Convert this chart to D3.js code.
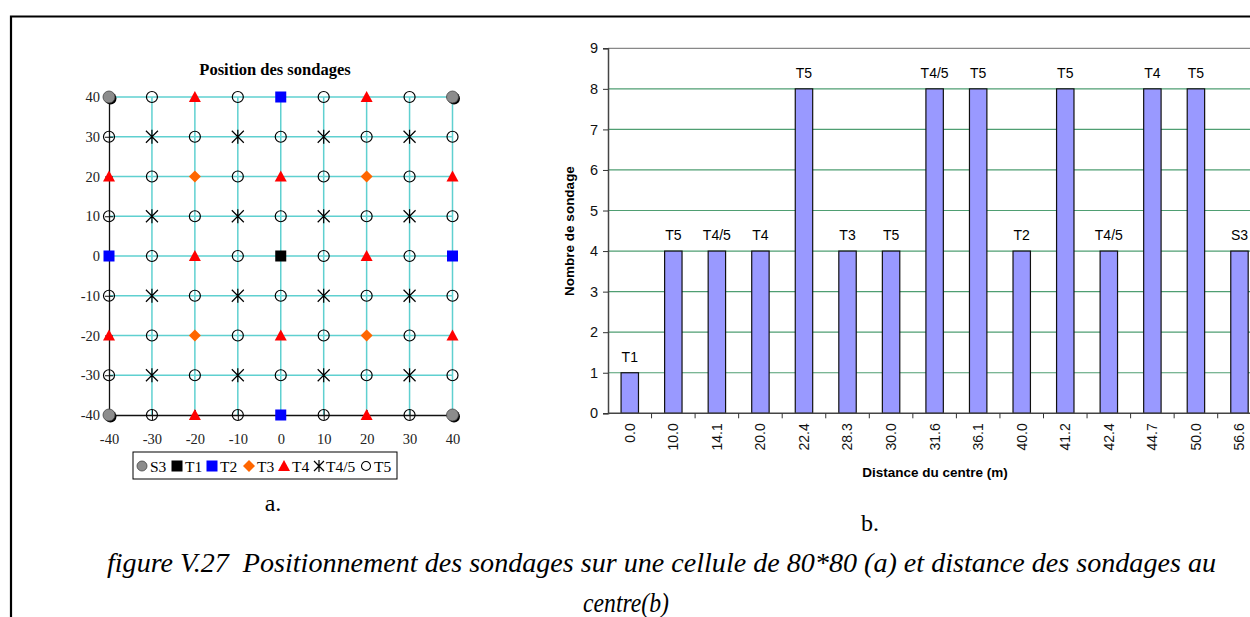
<!DOCTYPE html>
<html>
<head>
<meta charset="utf-8">
<script src="https://cdn.jsdelivr.net/npm/d3@7"></script>
<style>
  body { margin: 0; background: #fff; }
  svg { display: block; }
</style>
</head>
<body>
<script>
// ---- data : left chart (position des sondages) ----
var gridX = [-40, -30, -20, -10, 0, 10, 20, 30, 40];
var gridY = [40, 30, 20, 10, 0, -10, -20, -30, -40];
// one row per y value (top to bottom), one code per x value
var row40  = ["S3", "T5", "T4", "T5", "T2", "T5", "T4", "T5", "S3"];
var row30  = ["T5", "T45", "T5", "T45", "T5", "T45", "T5", "T45", "T5"];
var row20  = ["T4", "T5", "T3", "T5", "T4", "T5", "T3", "T5", "T4"];
var row10  = ["T5", "T45", "T5", "T45", "T5", "T45", "T5", "T45", "T5"];
var row0   = ["T2", "T5", "T4", "T5", "T1", "T5", "T4", "T5", "T2"];
var rowM10 = ["T5", "T45", "T5", "T45", "T5", "T45", "T5", "T45", "T5"];
var rowM20 = ["T4", "T5", "T3", "T5", "T4", "T5", "T3", "T5", "T4"];
var rowM30 = ["T5", "T45", "T5", "T45", "T5", "T45", "T5", "T45", "T5"];
var rowM40 = ["S3", "T5", "T4", "T5", "T2", "T5", "T4", "T5", "S3"];
var rows = [row40, row30, row20, row10, row0, rowM10, rowM20, rowM30, rowM40];

var legendCodes = ["S3", "T1", "T2", "T3", "T4", "T45", "T5"];
var legendNames = ["S3", "T1", "T2", "T3", "T4", "T4/5", "T5"];

// ---- data : right chart (distance au centre) ----
var distances = ["0.0", "10.0", "14.1", "20.0", "22.4", "28.3", "30.0", "31.6", "36.1", "40.0", "41.2", "42.4", "44.7", "50.0", "56.6"];
var counts    = [1, 4, 4, 4, 8, 4, 4, 8, 8, 4, 8, 4, 8, 8, 4];
var barLabels = ["T1", "T5", "T4/5", "T4", "T5", "T3", "T5", "T4/5", "T5", "T2", "T5", "T4/5", "T4", "T5", "S3"];
var yTicksRight = [0, 1, 2, 3, 4, 5, 6, 7, 8, 9];

var W = 1250, H = 617;
var svg = d3.select("body").append("svg")
    .attr("width", W)
    .attr("height", H);

// page frame
svg.append("path")
    .attr("d", "M11,617 L11,16.5 L1250,16.5")
    .attr("fill", "none")
    .attr("stroke", "#000")
    .attr("stroke-width", 2.2);

// ============ left chart ============
var serif = "'Liberation Serif', 'Times New Roman', serif";
var x = d3.scaleLinear().domain([-40, 40]).range([109, 452.5]);
var y = d3.scaleLinear().domain([-40, 40]).range([415, 97]);
var plain = function(d) { return String(d); };   // keep ascii hyphen for negatives

var left = svg.append("g");

left.append("text")
    .attr("x", 275).attr("y", 75)
    .attr("text-anchor", "middle")
    .style("font-family", serif)
    .style("font-weight", "bold")
    .style("font-size", "16.5px")
    .text("Position des sondages");

// cyan grid
var gridColor = "#5fd0d0";
left.selectAll(".vg").data(gridX.slice(1)).enter().append("line")
    .attr("x1", function(d) { return x(d); }).attr("x2", function(d) { return x(d); })
    .attr("y1", y(-40)).attr("y2", y(40))
    .attr("stroke", gridColor).attr("stroke-width", 1.5);
left.selectAll(".hg").data(gridY.slice(0, -1)).enter().append("line")
    .attr("y1", function(d) { return y(d); }).attr("y2", function(d) { return y(d); })
    .attr("x1", x(-40)).attr("x2", x(40))
    .attr("stroke", gridColor).attr("stroke-width", 1.5);

// axes
var axL = left.append("g")
    .attr("transform", "translate(" + x(-40) + ",0)")
    .call(d3.axisLeft(y).tickValues(gridY).tickFormat(plain).tickSize(4).tickPadding(5));
var axB = left.append("g")
    .attr("transform", "translate(0," + y(-40) + ")")
    .call(d3.axisBottom(x).tickValues(gridX).tickFormat(plain).tickSize(5).tickPadding(14));
[axL, axB].forEach(function(a) {
  a.select(".domain").attr("stroke", "#111").attr("stroke-width", 1.3);
  a.selectAll(".tick line").attr("stroke", "#111");
  a.selectAll("text").style("font-family", serif).style("font-size", "14.5px").attr("fill", "#222");
});
axL.selectAll(".tick line").attr("x2", 4).attr("x1", -4);
axB.selectAll(".tick line").attr("y1", -5).attr("y2", 5);

// markers
function drawMarker(g, code) {
  if (code === "S3") {
    g.append("circle").attr("cx", 1.5).attr("cy", 1.5).attr("r", 6).attr("fill", "#000");
    g.append("circle").attr("r", 6).attr("fill", "#8c8c8c").attr("stroke", "#444").attr("stroke-width", 0.8);
  } else if (code === "T1") {
    g.append("rect").attr("x", -5.5).attr("y", -5.5).attr("width", 11).attr("height", 11).attr("fill", "#000");
  } else if (code === "T2") {
    g.append("rect").attr("x", -5.5).attr("y", -5.5).attr("width", 11).attr("height", 11).attr("fill", "#0000ff");
  } else if (code === "T3") {
    g.append("path").attr("d", "M0,-6L6,0L0,6L-6,0Z").attr("fill", "#ff6600");
  } else if (code === "T4") {
    g.append("path").attr("d", "M0,-6L6,5L-6,5Z").attr("fill", "#ff0000");
  } else if (code === "T45") {
    g.append("path").attr("d", "M-6,-6L6,6M-6,6L6,-6M0,-7L0,7")
        .attr("stroke", "#000").attr("stroke-width", 1.2).attr("fill", "none");
  } else {
    g.append("circle").attr("r", 5.5).attr("fill", "none").attr("stroke", "#000").attr("stroke-width", 1.2);
  }
}

var points = [];
rows.forEach(function(r, i) {
  r.forEach(function(code, j) { points.push({ x: gridX[j], y: gridY[i], code: code }); });
});
left.selectAll(".pt").data(points).enter().append("g")
    .attr("class", "pt")
    .attr("transform", function(d) { return "translate(" + x(d.x) + "," + y(d.y) + ")"; })
    .each(function(d) { drawMarker(d3.select(this), d.code); });

// legend
left.append("rect")
    .attr("x", 133).attr("y", 452).attr("width", 264).attr("height", 27)
    .attr("fill", "#fff").attr("stroke", "#000").attr("stroke-width", 1);
var legX = [142, 177, 212, 249, 284, 319, 366];
var leg = left.selectAll(".leg").data(legendCodes).enter().append("g")
    .attr("transform", function(d, i) { return "translate(" + legX[i] + ",466)"; });
leg.each(function(d) {
  var g = d3.select(this);
  if (d === "S3") {
    g.append("circle").attr("r", 5).attr("fill", "#8c8c8c").attr("stroke", "#444").attr("stroke-width", 0.8);
  } else if (d === "T5") {
    g.append("circle").attr("r", 4.5).attr("fill", "none").attr("stroke", "#000").attr("stroke-width", 1.1);
  } else if (d === "T45") {
    g.append("path").attr("d", "M-5,-5L5,5M-5,5L5,-5M0,-6L0,6")
        .attr("stroke", "#000").attr("stroke-width", 1.2).attr("fill", "none");
  } else {
    drawMarker(g, d);
  }
});
leg.append("text")
    .attr("x", function(d) { return d === "T45" ? 7 : 8; })
    .attr("y", 5.5)
    .style("font-family", serif).style("font-size", "15.5px")
    .text(function(d, i) { return legendNames[i]; });

left.append("text")
    .attr("x", 273).attr("y", 511)
    .attr("text-anchor", "middle")
    .style("font-family", serif).style("font-size", "24px")
    .text("a.");

// ============ right chart ============
var sans = "'Liberation Sans', Arial, sans-serif";
var xb = d3.scaleBand().domain(distances).range([608, 608 + 15 * 43.55])
    .paddingInner(0.6).paddingOuter(0.3);
var yb = d3.scaleLinear().domain([0, 9]).range([413.3, 48.3]);

var right = svg.append("g");

right.selectAll(".gl").data(yTicksRight.slice(1)).enter().append("line")
    .attr("x1", 608).attr("x2", W)
    .attr("y1", function(d) { return yb(d); }).attr("y2", function(d) { return yb(d); })
    .attr("stroke", function(d) { return d === 9 ? "#888" : "#4f9e72"; })
    .attr("stroke-width", 1.2);

right.selectAll(".bar").data(counts).enter().append("rect")
    .attr("x", function(d, i) { return xb(distances[i]); })
    .attr("y", function(d) { return yb(d); })
    .attr("width", xb.bandwidth())
    .attr("height", function(d) { return yb(0) - yb(d); })
    .attr("fill", "#9999ff")
    .attr("stroke", "#111").attr("stroke-width", 1.2);

right.selectAll(".bl").data(barLabels).enter().append("text")
    .attr("x", function(d, i) { return xb(distances[i]) + xb.bandwidth() / 2; })
    .attr("y", function(d, i) { return yb(counts[i]) - 11; })
    .attr("text-anchor", "middle")
    .style("font-family", sans).style("font-size", "14px")
    .text(function(d) { return d; });

var ay = right.append("g")
    .attr("transform", "translate(608,0)")
    .call(d3.axisLeft(yb).tickValues(yTicksRight).tickSize(5).tickPadding(5).tickFormat(plain));
ay.selectAll("text").style("font-family", sans).style("font-size", "14.5px").attr("fill", "#111");

var ax = right.append("g")
    .attr("transform", "translate(0," + yb(0) + ")")
    .call(d3.axisBottom(xb).tickSize(0).tickPadding(0));
ax.selectAll(".tick text")
    .attr("transform", "rotate(-90)")
    .attr("x", -10).attr("y", 0).attr("dy", "0.35em")
    .attr("text-anchor", "end")
    .style("font-family", sans).style("font-size", "14px").attr("fill", "#111");
// category separators
ax.selectAll(".sep").data(distances).enter().append("line")
    .attr("x1", function(d, i) { return 608 + (i + 1) * xb.step(); })
    .attr("x2", function(d, i) { return 608 + (i + 1) * xb.step(); })
    .attr("y1", 0).attr("y2", 5)
    .attr("stroke", "#333");
[ay, ax].forEach(function(a) {
  a.select(".domain").attr("stroke", "#444").attr("stroke-width", 1.5);
  a.selectAll(".tick line").attr("stroke", "#333");
});
ax.select(".domain").attr("d", "M608,0H" + W);

right.append("text")
    .attr("transform", "translate(574,231) rotate(-90)")
    .attr("text-anchor", "middle")
    .style("font-family", sans).style("font-weight", "bold").style("font-size", "13.5px")
    .text("Nombre de sondage");

right.append("text")
    .attr("x", 935).attr("y", 477)
    .attr("text-anchor", "middle")
    .style("font-family", sans).style("font-weight", "bold").style("font-size", "13.5px")
    .text("Distance du centre (m)");

right.append("text")
    .attr("x", 870).attr("y", 531)
    .attr("text-anchor", "middle")
    .style("font-family", serif).style("font-size", "24px")
    .text("b.");

// caption : tall, slightly condensed italic, first line justified to full width
svg.append("text")
    .attr("x", 107).attr("y", 572)
    .attr("textLength", 1109).attr("lengthAdjust", "spacingAndGlyphs")
    .style("font-family", serif).style("font-style", "italic").style("font-size", "27px")
    .style("white-space", "pre")
    .text("figure V.27  Positionnement des sondages sur une cellule de 80*80 (a) et distance des sondages au");
svg.append("text")
    .attr("x", 583).attr("y", 612)
    .attr("textLength", 86).attr("lengthAdjust", "spacingAndGlyphs")
    .style("font-family", serif).style("font-style", "italic").style("font-size", "27px")
    .text("centre(b)");
</script>
</body>
</html>
